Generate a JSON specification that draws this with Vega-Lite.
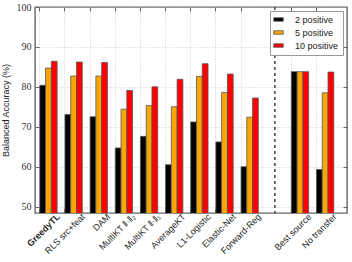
{
  "$schema": "https://vega.github.io/schema/vega-lite/v6.json",
  "autosize": {"type": "none"},
  "padding": {"left": 35, "top": 7, "right": 5, "bottom": 49},
  "width": 312,
  "height": 206,
  "config": {
    "view": {"stroke": "#666", "strokeWidth": 1.4},
    "axis": {"domain": false}
  },
  "datasets": {
    "scores": [
      {"method": "GreedyTL", "series": "2 positive", "acc": 80.4},
      {"method": "GreedyTL", "series": "5 positive", "acc": 84.7},
      {"method": "GreedyTL", "series": "10 positive", "acc": 86.4},
      {"method": "RLS src+feat", "series": "2 positive", "acc": 73.1},
      {"method": "RLS src+feat", "series": "5 positive", "acc": 82.7},
      {"method": "RLS src+feat", "series": "10 positive", "acc": 86.2},
      {"method": "DAM", "series": "2 positive", "acc": 72.5},
      {"method": "DAM", "series": "5 positive", "acc": 82.7},
      {"method": "DAM", "series": "10 positive", "acc": 86.1},
      {"method": "MultiKT ‖·‖₂", "series": "2 positive", "acc": 64.7},
      {"method": "MultiKT ‖·‖₂", "series": "5 positive", "acc": 74.4},
      {"method": "MultiKT ‖·‖₂", "series": "10 positive", "acc": 79.1},
      {"method": "MultiKT ‖·‖₁", "series": "2 positive", "acc": 67.6},
      {"method": "MultiKT ‖·‖₁", "series": "5 positive", "acc": 75.3},
      {"method": "MultiKT ‖·‖₁", "series": "10 positive", "acc": 80.0},
      {"method": "AverageKT", "series": "2 positive", "acc": 60.5},
      {"method": "AverageKT", "series": "5 positive", "acc": 75.0},
      {"method": "AverageKT", "series": "10 positive", "acc": 81.9},
      {"method": "L1-Logistic", "series": "2 positive", "acc": 71.2},
      {"method": "L1-Logistic", "series": "5 positive", "acc": 82.6},
      {"method": "L1-Logistic", "series": "10 positive", "acc": 85.8},
      {"method": "Elastic-Net", "series": "2 positive", "acc": 66.2},
      {"method": "Elastic-Net", "series": "5 positive", "acc": 78.6},
      {"method": "Elastic-Net", "series": "10 positive", "acc": 83.2},
      {"method": "Forward-Reg", "series": "2 positive", "acc": 60.0},
      {"method": "Forward-Reg", "series": "5 positive", "acc": 72.4},
      {"method": "Forward-Reg", "series": "10 positive", "acc": 77.2},
      {"method": "Best source", "series": "2 positive", "acc": 83.8},
      {"method": "Best source", "series": "5 positive", "acc": 83.8},
      {"method": "Best source", "series": "10 positive", "acc": 83.8},
      {"method": "No transfer", "series": "2 positive", "acc": 59.3},
      {"method": "No transfer", "series": "5 positive", "acc": 78.5},
      {"method": "No transfer", "series": "10 positive", "acc": 83.7}
    ],
    "separator": [{"method": "sep"}]
  },
  "layer": [
    {
      "data": {"name": "scores"},
      "mark": {"type": "bar", "stroke": "#555", "strokeWidth": 0.8, "clip": true},
      "encoding": {
        "x": {
          "field": "method",
          "type": "nominal",
          "scale": {
            "domain": ["GreedyTL", "RLS src+feat", "DAM", "MultiKT ‖·‖₂", "MultiKT ‖·‖₁", "AverageKT", "L1-Logistic", "Elastic-Net", "Forward-Reg", "sep", "Best source", "No transfer"],
            "paddingInner": 0.312,
            "paddingOuter": 0.358,
            "align": 0.267
          },
          "axis": {
            "title": null,
            "orient": "bottom",
            "values": ["GreedyTL", "RLS src+feat", "DAM", "MultiKT ‖·‖₂", "MultiKT ‖·‖₁", "AverageKT", "L1-Logistic", "Elastic-Net", "Forward-Reg", "Best source", "No transfer"],
            "bandPosition": 0,
            "grid": true,
            "gridDash": [1, 2],
            "gridColor": "#bbb",
            "gridWidth": 0.8,
            "ticks": true,
            "tickSize": -4,
            "tickColor": "#666",
            "labelAngle": -45,
            "labelAlign": "right",
            "labelBaseline": "top",
            "labelOffset": 7,
            "labelPadding": 3,
            "labelFont": "Liberation Sans",
            "labelFontSize": 9,
            "labelColor": "#222",
            "labelFontWeight": {"condition": {"test": "datum.value === 'GreedyTL'", "value": "bold"}, "value": "normal"}
          }
        },
        "xOffset": {
          "field": "series",
          "type": "nominal",
          "scale": {"domain": ["2 positive", "5 positive", "10 positive"], "paddingInner": 0, "paddingOuter": 0}
        },
        "y": {
          "field": "acc",
          "type": "quantitative",
          "scale": {"domain": [48.4, 100], "nice": false, "zero": false},
          "axis": {
            "title": "Balanced Accuracy (%)",
            "titleFont": "Liberation Sans",
            "titleFontSize": 9,
            "titleFontWeight": "normal",
            "titleColor": "#222",
            "titlePadding": 6,
            "values": [50, 60, 70, 80, 90, 100],
            "grid": true,
            "gridDash": [1, 2],
            "gridColor": "#bbb",
            "gridWidth": 0.8,
            "tickSize": -4,
            "tickColor": "#666",
            "labelPadding": 8,
            "labelFont": "Liberation Serif",
            "labelFontSize": 10,
            "labelColor": "#333"
          }
        },
        "color": {
          "field": "series",
          "type": "nominal",
          "scale": {"domain": ["2 positive", "5 positive", "10 positive"], "range": ["#000000", "#FFA500", "#FF0000"]},
          "legend": {
            "title": null,
            "orient": "top-right",
            "offset": 4,
            "fillColor": "#ffffff",
            "strokeColor": "#999",
            "padding": 4,
            "rowPadding": 3,
            "symbolType": "M-1.19,-0.44H1.19V0.44H-1.19Z",
            "symbolSize": 64,
            "symbolStrokeColor": "#555",
            "symbolStrokeWidth": 0.8,
            "symbolOpacity": 1,
            "labelOffset": 12,
            "labelFont": "Liberation Sans",
            "labelFontSize": 9,
            "labelColor": "#222"
          }
        }
      }
    },
    {
      "data": {"name": "separator"},
      "mark": {"type": "rule", "color": "#444", "strokeWidth": 1.5, "strokeDash": [3, 3]},
      "encoding": {
        "x": {
          "field": "method",
          "type": "nominal",
          "axis": {
            "orient": "top",
            "title": null,
            "labels": false,
            "grid": false,
            "bandPosition": 0,
            "values": ["GreedyTL", "RLS src+feat", "DAM", "MultiKT ‖·‖₂", "MultiKT ‖·‖₁", "AverageKT", "L1-Logistic", "Elastic-Net", "Forward-Reg", "Best source", "No transfer"],
            "tickSize": -4,
            "tickColor": "#666"
          }
        }
      }
    },
    {
      "data": {"name": "scores"},
      "mark": {"type": "tick", "opacity": 0},
      "encoding": {
        "y": {
          "field": "acc",
          "type": "quantitative",
          "axis": {
            "orient": "right",
            "title": null,
            "labels": false,
            "grid": false,
            "values": [50, 60, 70, 80, 90],
            "tickSize": -4,
            "tickColor": "#666"
          }
        }
      }
    }
  ],
  "resolve": {"axis": {"x": "independent", "y": "independent"}}
}
